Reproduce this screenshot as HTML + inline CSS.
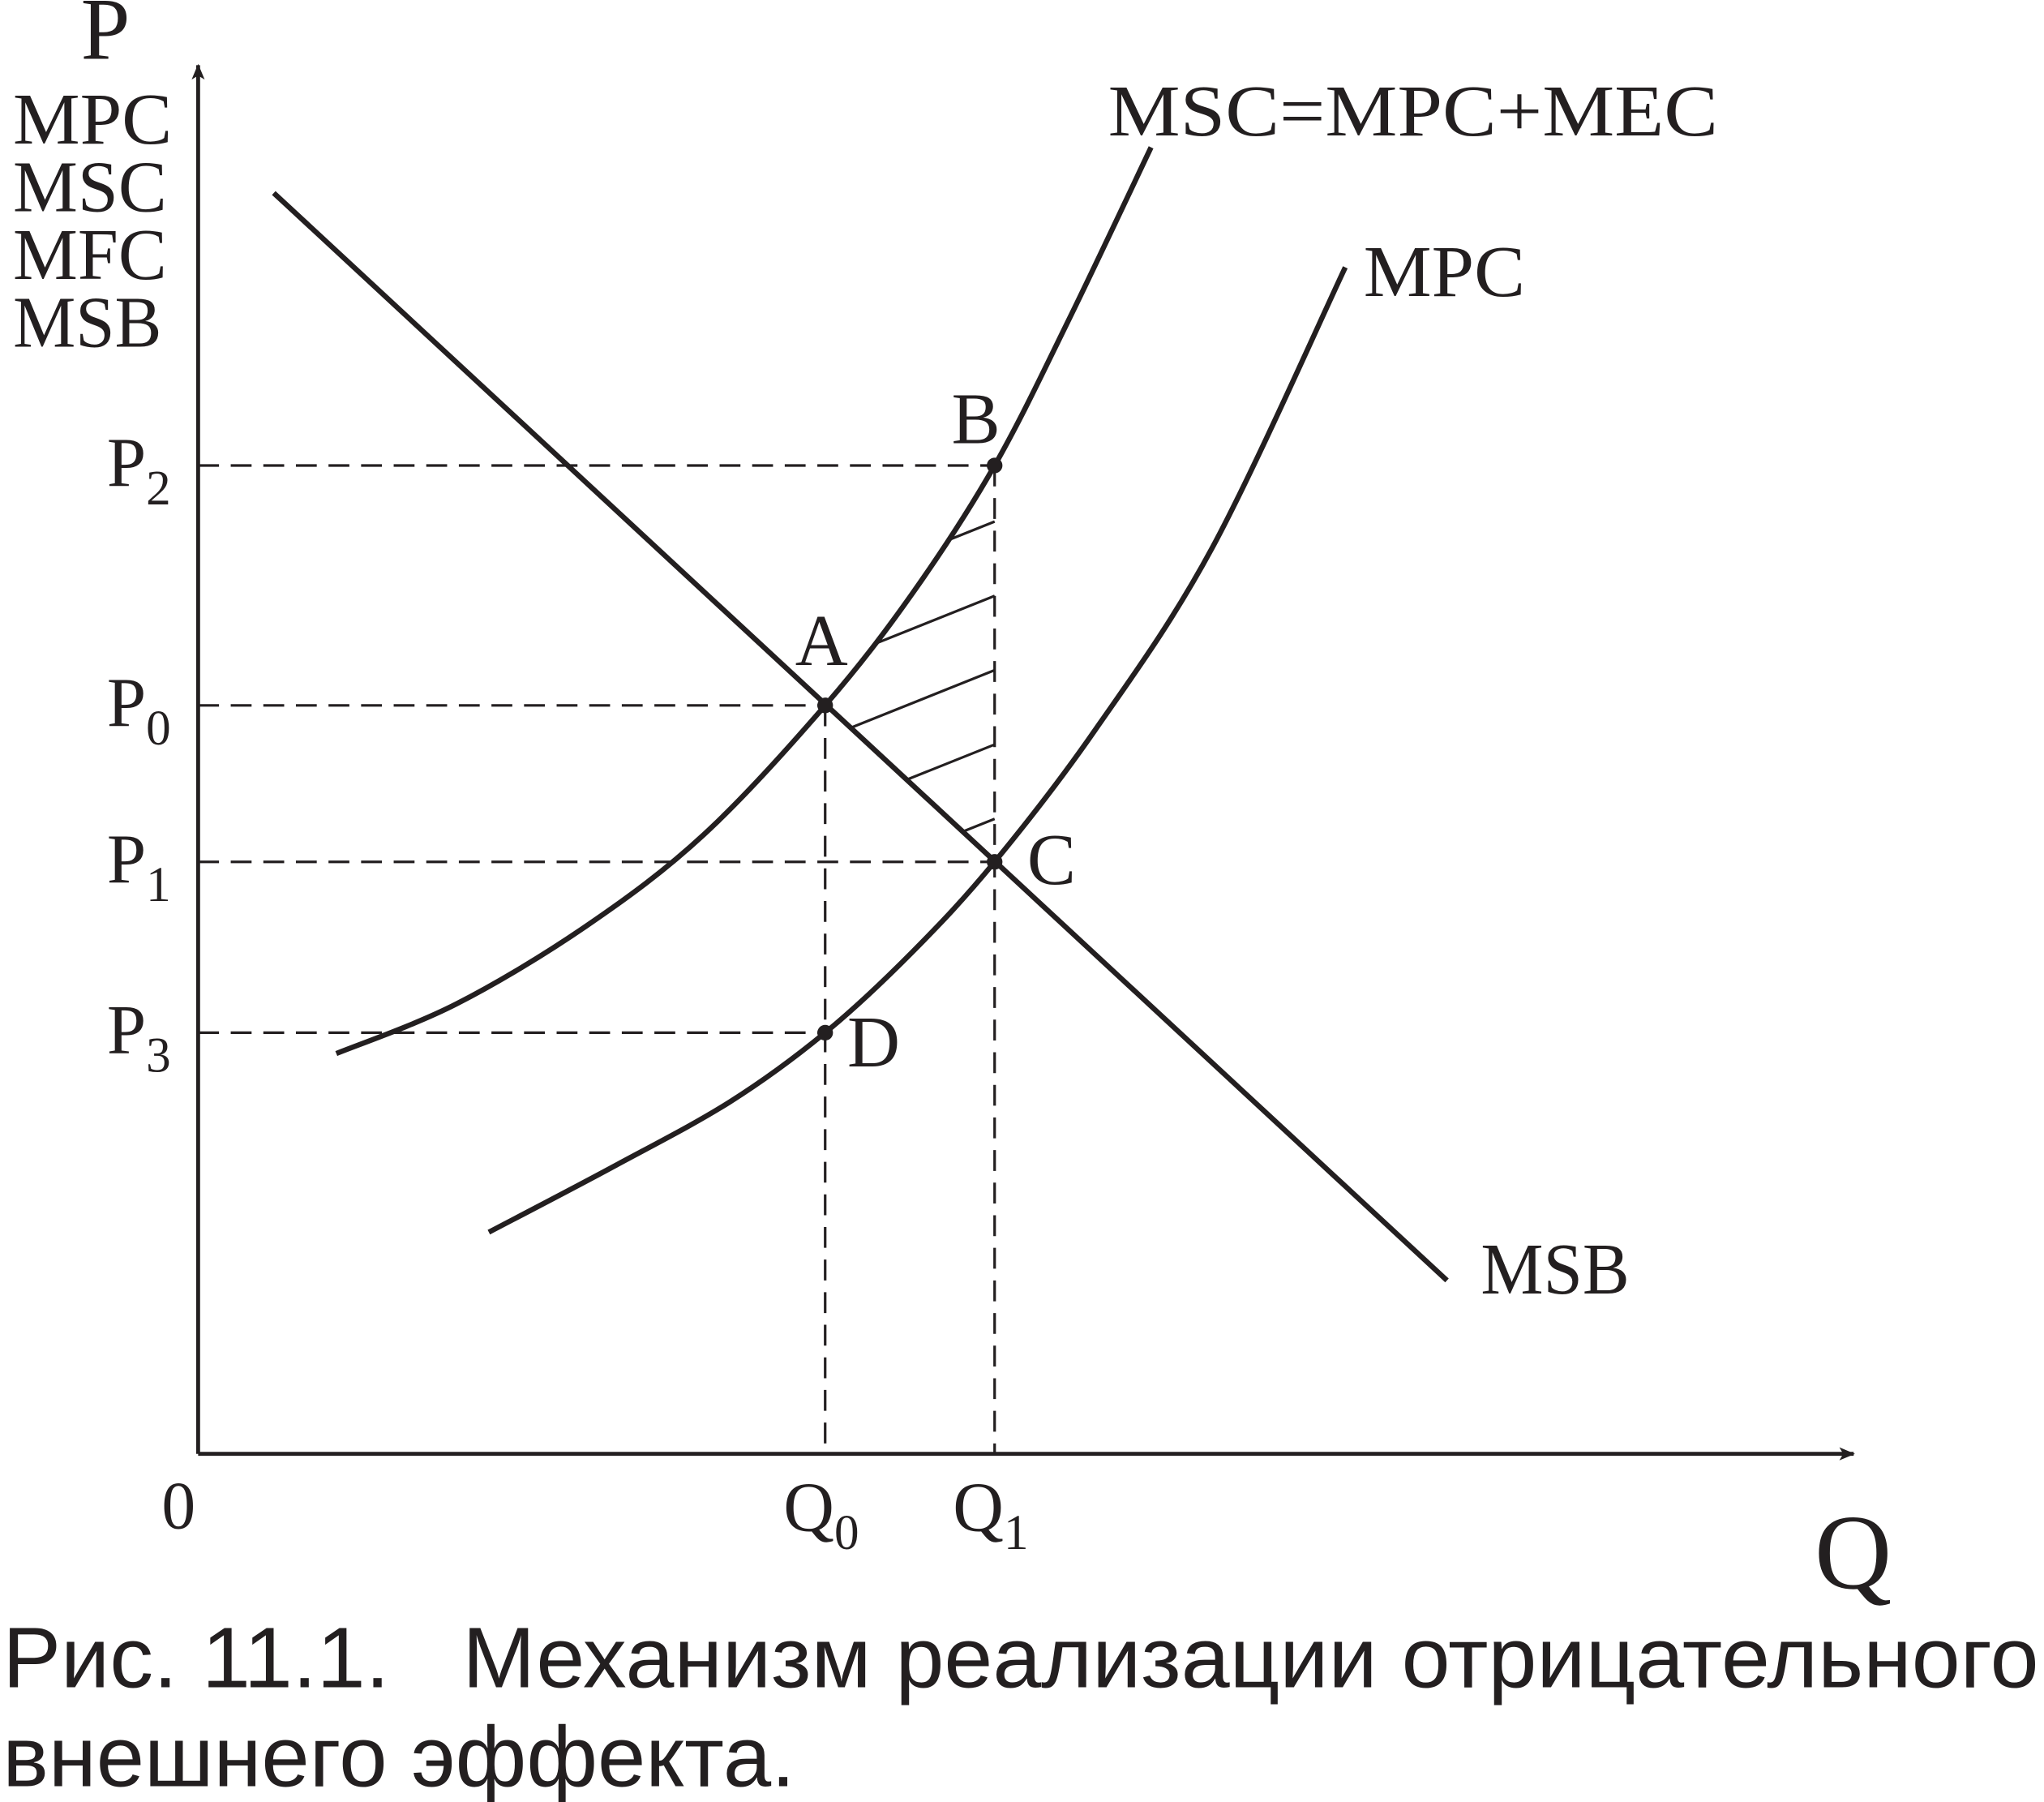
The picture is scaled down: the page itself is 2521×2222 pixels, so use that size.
<!DOCTYPE html>
<html><head><meta charset="utf-8"><style>
html,body{margin:0;padding:0;background:#fff;}
svg{display:block;}
</style></head><body>
<svg id="chart" width="2521" height="2222" viewBox="0 0 1568 1382" preserveAspectRatio="none" xmlns="http://www.w3.org/2000/svg">
<defs>
<marker id="arr" markerWidth="12" markerHeight="10" refX="11" refY="5" orient="auto" markerUnits="userSpaceOnUse"><path d="M0,0 L12,5 L0,10 L3,5 Z" fill="#231f20"/></marker>
</defs>
<g id="axes" stroke="#231f20" stroke-width="3" fill="none">
<line x1="152" y1="1115" x2="152" y2="50" marker-end="url(#arr)"/>
<line x1="152" y1="1115" x2="1422" y2="1115" marker-end="url(#arr)"/>
</g>
<g id="guides" stroke="#231f20" stroke-width="2" stroke-dasharray="16,9" fill="none"></g>
<g id="hatch" stroke="#231f20" stroke-width="2"></g>
<g id="curves" fill="none" stroke="#231f20" stroke-width="4"></g>
<g id="pts" fill="#231f20"></g>
<g font-family="'Liberation Serif',serif" fill="#231f20" font-size="56">
<text x="62" y="45" font-size="68">P</text>
<text x="10" y="110" textLength="122" lengthAdjust="spacingAndGlyphs">MPC</text>
<text x="10" y="162" textLength="118" lengthAdjust="spacingAndGlyphs">MSC</text>
<text x="10" y="214" textLength="118" lengthAdjust="spacingAndGlyphs">MFC</text>
<text x="10" y="266" textLength="114" lengthAdjust="spacingAndGlyphs">MSB</text>
<text x="1392" y="1218" font-size="82">Q</text>
<text x="124" y="1172" font-size="52">0</text>
<text x="850" y="104" textLength="468" lengthAdjust="spacingAndGlyphs">MSC=MPC+MEC</text>
<text x="1046" y="227" textLength="124" lengthAdjust="spacingAndGlyphs">MPC</text>
<text x="1136" y="992" textLength="114" lengthAdjust="spacingAndGlyphs">MSB</text>
<text x="610" y="510">A</text>
<text x="730" y="340">B</text>
<text x="788" y="678">C</text>
<text x="650" y="818">D</text>
</g>
<g id="ticklabels" font-family="'Liberation Serif',serif" fill="#231f20" font-size="54"></g>
<g font-family="'Liberation Sans',sans-serif" fill="#231f20" font-size="66">
<text x="2" y="1294" xml:space="preserve" textLength="1562" lengthAdjust="spacingAndGlyphs">Рис. 11.1.   Механизм реализации отрицательного</text>
<text x="2" y="1370" textLength="608" lengthAdjust="spacingAndGlyphs">внешнего эффекта.</text>
</g>
</svg>
<script>
const msbQ=[58,958], msbP=[967,133];
const mscQ=[106,198,298,388,481,548,611,668,731];
const mscP=[307,345,405,475,574,660,758,870,1002];
const mpcQ=[223,318,408,481,548,611,688,778,880];
const mpcP=[170,220,270,323,385,454,555,695,910];
const priceNames=["2","0","1","3"];
const priceVals=[758,574,454,323];
const priceQ=[611,481,611,481];
const qNames=["0","1"];
const qVals=[481,611];
const pointNames=["B","A","C","D"];
const pointQ=[611,481,611,481];
const pointP=[758,574,454,323];
const X=q=>152+q, Y=p=>1115-p;
const NS="http://www.w3.org/2000/svg";
function mk(tag,attrs,parent){const e=document.createElementNS(NS,tag);for(const k in attrs)e.setAttribute(k,attrs[k]);document.getElementById(parent).appendChild(e);return e;}
function smooth(qs,ps){const P=qs.map((q,i)=>[X(q),Y(ps[i])]);let d=`M${P[0][0]},${P[0][1]}`;
for(let i=0;i<P.length-1;i++){const p0=P[i-1]||P[i],p1=P[i],p2=P[i+1],p3=P[i+2]||p2;
d+=` C${p1[0]+(p2[0]-p0[0])/6},${p1[1]+(p2[1]-p0[1])/6} ${p2[0]-(p3[0]-p1[0])/6},${p2[1]-(p3[1]-p1[1])/6} ${p2[0]},${p2[1]}`;}return d;}
let e;
e=mk('line',{x1:X(msbQ[0]),y1:Y(msbP[0]),x2:X(msbQ[1]),y2:Y(msbP[1])},'curves');


e=mk('path',{d:smooth(mscQ,mscP)},'curves');


e=mk('path',{d:smooth(mpcQ,mpcP)},'curves');


priceVals.forEach((p,i)=>{
e=mk('line',{x1:152,y1:Y(p),x2:X(priceQ[i]),y2:Y(p)},'guides');


e=mk('text',{x:82,y:Y(p)+16},'ticklabels');e.textContent='P';


const s=mk('tspan',{'font-size':'38',dy:'14'},'ticklabels');s.textContent=priceNames[i];e.appendChild(s);
});
qVals.forEach((q,i)=>{
const top=Math.max(...priceVals.filter((p,j)=>priceQ[j]===q));
e=mk('line',{x1:X(q),y1:Y(top),x2:X(q),y2:1115},'guides');


e=mk('text',{x:X(q)-32,y:1174},'ticklabels');e.textContent='Q';


const s=mk('tspan',{'font-size':'38',dy:'14'},'ticklabels');s.textContent=qNames[i];e.appendChild(s);
});
const qa=qVals[0],qb=qVals[1];
const clip=mk('clipPath',{id:'hc'},'hatch');
const msbAt=q=>msbP[0]+(msbP[1]-msbP[0])*(q-msbQ[0])/(msbQ[1]-msbQ[0]);
const mscPath=mk('path',{d:smooth(mscQ,mscP)+` L${X(qb)},${Y(msbAt(qb))} L${X(qa)},${Y(msbAt(qa))} Z`},'hatch');
clip.appendChild(mscPath);
for(let k=0;k<7;k++){const yR=400+k*57;
e=mk('line',{x1:X(qa)-20,y1:yR+(X(qb)-X(qa)+20)*0.4,x2:X(qb),y2:yR,'clip-path':'url(#hc)'},'hatch');

}
pointNames.forEach((n,i)=>{
e=mk('circle',{cx:X(pointQ[i]),cy:Y(pointP[i]),r:6},'pts');


});
</script>
</body></html>
